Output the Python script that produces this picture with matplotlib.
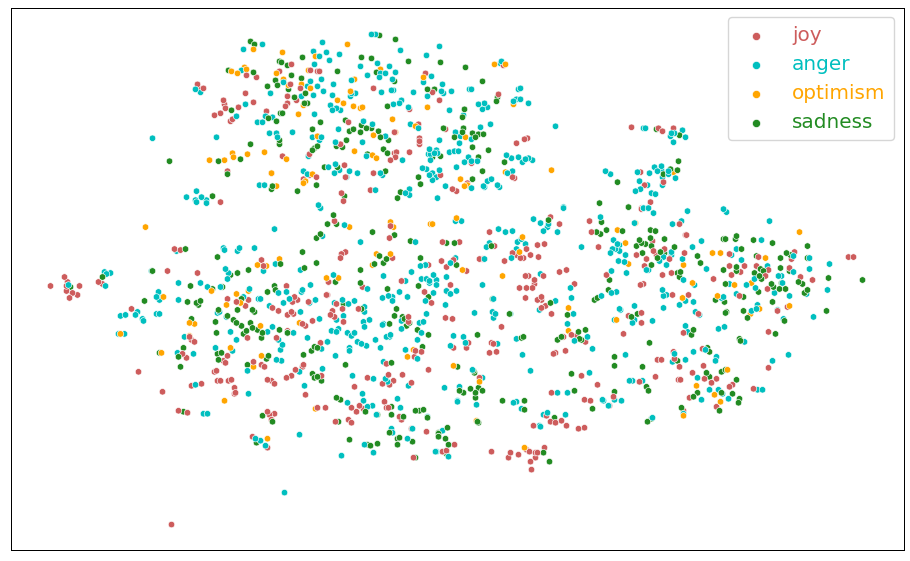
import matplotlib
matplotlib.use("Agg")
import matplotlib.pyplot as plt
import numpy as np

labels = ["joy", "anger", "optimism", "sadness"]
colors = ["indianred", "c", "orange", "forestgreen"]

# t-SNE coordinates
joy = [(198,84),(204,88),(201,89),(224,100),(225,104),(226,108),(239,107),(254,102),(246,93),(221,113),(215,115),(231,121),(233,119),(267,111),(247,75),(257,77),(280,71),(292,64),(311,70),(318,71),(320,71),(291,84),(301,88),(288,96),(288,103),(286,106),(297,100),(374,88),(344,201),(342,193),(349,122),(341,144),(283,156),(310,154),(309,156),(345,165),(374,173),(395,153),(397,152),(391,160),(396,157),(410,152),(420,138),(420,141),(420,144),(395,132),(371,190),(221,202),(317,177),(310,175),(304,179),(228,171),(346,177),(410,109),(419,124),(272,173),
(426,73),(433,92),(440,100),(499,94),(504,65),(446,129),(441,175),(468,183),(453,189),(457,191),(513,177),(515,178),(472,163),(517,143),(525,139),(528,138),(632,127),(659,128),(663,131),(674,128),(641,172),(645,185),(664,182),(651,202),(642,208),
(65,277),(51,286),(68,282),(67,286),(80,286),(67,291),(73,293),(78,295),(70,298),(99,282),(103,284),(175,249),(181,250),(168,271),(198,273),(132,309),(228,299),(237,302),(246,306),(249,300),(262,260),(264,266),(287,286),(295,297),(298,300),(293,302),(273,308),(279,311),(288,315),(292,312),(294,314),(309,302),(328,295),(329,282),(313,321),(306,326),(303,324),(288,331),(248,338),(277,338),(321,343),(192,340),(195,342),(190,337),(183,354),(187,358),(228,356),(224,361),(226,363),(254,362),(262,365),(265,367),(215,372),(217,371),(139,372),(304,365),(303,367),(296,370),(292,376),(287,378),(268,380),(272,381),(275,384),(218,381),(221,381),(229,381),(232,380),(192,386),(202,384),(235,388),(236,393),(322,376),(163,392),(235,394),
(642,209),(680,224),(686,235),(687,235),(653,241),(665,249),(637,255),(654,251),(657,255),(647,259),(670,259),(685,253),(645,266),(663,275),(672,273),(607,275),(714,279),(730,254),(730,266),(745,266),(741,272),(732,275),(769,270),(757,266),(759,257),(766,276),(795,252),(792,259),(790,268),(801,277),(813,280),(768,289),(849,257),(854,257),(689,295),(673,295),(644,284),(641,285),(740,296),(788,307),(778,311),(699,314),(629,316),(642,313),(642,323),(624,334),(684,333),(769,332),(674,352),(675,359),(680,367),(658,360),(662,360),(703,349),(704,366),(769,368),(656,377),(693,373),(717,379),(712,383),(679,380),(681,380),(640,382),(733,385),(730,387),(754,389),(705,379),
(335,221),(391,226),(390,238),(490,232),(560,224),(551,217),(590,221),(592,232),(443,242),(460,242),(495,246),(538,245),(545,244),(527,249),(513,253),(517,255),(521,258),(524,258),(531,255),(539,257),(505,261),(599,247),(346,252),(342,254),(341,258),(393,258),(429,265),(442,261),(447,267),(454,260),(467,271),(480,259),(483,259),(329,282),(363,287),(402,281),(451,285),(425,292),(447,291),(432,303),(327,295),(337,304),(333,311),(331,315),(335,317),(343,309),(344,322),(359,309),(409,317),(409,322),(446,318),(453,319),(502,327),(526,276),(529,276),(544,276),(535,280),(535,284),(527,288),(533,288),(520,288),(526,298),(538,300),(542,297),(542,300),(546,306),(542,308),(552,314),(560,272),(567,270),(575,284),(607,275),(572,335),(577,336),(586,342),(564,337),(566,351),(556,353),(554,354),(494,344),(492,343),(497,352),(490,353),(469,343),(467,348),(454,348),(416,351),(422,352),(415,357),(429,370),(368,378),(355,387),(389,375),(394,381),(383,384),(390,385),(403,375),(412,383),(387,364),(480,378),(582,376),(598,385),(552,393),
(179,411),(188,413),(268,412),(275,414),(270,415),(272,420),(253,437),(268,448),(172,525),(318,408),(326,408),(352,408),(357,412),(360,406),(364,409),(385,402),(387,408),(389,408),(336,422),(349,420),(352,423),(400,417),(402,420),(412,429),(427,432),(414,458),(306,395),
(492,452),(511,453),(509,458),(519,455),(527,450),(530,452),(536,453),(538,453),(536,458),(545,448),(531,462),(532,470),(455,445),(443,452),(447,451),(534,426),(547,416),(551,422),(556,423),(562,421),(567,426),(579,429),(585,428),(585,400),(591,401),(610,406),(614,397),(690,398),(717,407),(684,411)]

anger = [(323,42),(263,44),(244,49),(314,51),(327,52),(320,56),(340,54),(330,60),(315,64),(361,66),(378,63),(368,75),(390,66),(386,73),(381,73),(380,77),(396,72),(393,79),(401,50),(242,70),(196,89),(201,92),(246,104),(237,116),(266,116),(273,117),(263,122),(258,122),(284,82),(308,86),(311,81),(322,79),(334,84),(318,86),(324,91),(314,95),(302,96),(333,95),(271,93),(352,80),(352,93),(356,93),(351,96),(382,92),(392,90),(394,90),(414,92),(402,100),(394,104),(400,103),(409,107),(331,105),(333,110),(337,108),(341,110),(315,114),(364,121),(373,124),(339,129),(411,124),(419,128),(270,133),(277,133),(278,137),(293,132),(313,137),(322,137),(320,140),(336,142),(363,142),(386,136),(367,156),(403,160),(153,138),(217,137),(309,156),(304,171),(308,174),(329,167),(335,173),(336,164),(340,170),(350,171),(358,173),(347,177),(381,173),(383,175),(260,185),(265,185),(376,190),(406,193),(410,189),(410,195),(197,191),(187,197),(196,200),(202,197),(197,202),(207,203),(207,200),(319,205),(321,208),(372,34),(376,34),
(440,46),(427,55),(432,76),(424,82),(443,84),(452,91),(442,91),(444,93),(428,96),(472,89),(470,89),(450,110),(464,115),(479,104),(485,103),(488,107),(483,109),(519,89),(521,88),(514,101),(517,99),(521,99),(529,103),(502,61),(501,63),(491,124),(481,127),(456,132),(461,136),(472,139),(460,143),(440,140),(556,126),(430,149),(437,150),(429,154),(431,154),(435,153),(438,153),(431,160),(450,152),(455,151),(459,151),(469,157),(465,162),(472,161),(478,161),(457,167),(440,170),(423,168),(427,169),(430,175),(433,173),(437,177),(433,180),(507,155),(512,158),(519,157),(529,158),(533,160),(523,162),(526,159),(508,173),(513,171),(488,181),(492,179),(484,186),(485,187),(498,185),(500,187),(446,186),(472,188),(438,198),(564,208),(606,171),(611,174),(638,172),(644,128),(646,128),(683,130),(686,137),(674,142),(671,136),(672,133),(675,133),(655,167),(662,166),(658,171),(662,170),(669,171),(669,174),(663,177),(676,178),(650,173),(640,181),(648,185),(641,189),(636,191),(663,185),(652,193),(656,194),(648,208),(644,208),
(69,285),(105,272),(107,274),(111,273),(106,286),(177,251),(152,271),(179,283),(201,283),(208,287),(221,287),(159,292),(157,297),(162,297),(160,300),(179,300),(226,269),(229,273),(228,279),(224,248),(225,250),(238,251),(240,248),(255,248),(275,229),(276,264),(264,271),(301,270),(321,208),(323,236),(250,289),(244,297),(259,299),(261,299),(287,292),(279,293),(284,303),(290,299),(302,292),(303,290),(311,285),(316,300),(310,303),(270,306),(301,312),(320,319),(121,316),(126,315),(136,315),(138,312),(157,314),(160,314),(143,319),(144,321),(119,334),(125,334),(218,313),(220,312),(227,317),(231,332),(237,340),(268,332),(273,327),(294,333),(288,333),(308,338),(279,340),(328,342),(322,349),(283,345),(281,350),(216,348),(233,351),(185,337),(178,353),(194,354),(277,360),(282,361),(323,369),(300,372),(248,371),(196,385),(305,386),(249,394),
(654,213),(649,208),(644,208),(688,211),(724,209),(727,212),(635,223),(673,224),(682,221),(770,221),(614,240),(618,244),(620,245),(613,249),(616,249),(620,251),(611,253),(626,255),(619,261),(625,262),(612,271),(627,273),(647,270),(649,270),(660,261),(667,265),(672,252),(672,255),(664,257),(683,259),(693,247),(702,241),(707,269),(762,240),(737,249),(732,255),(742,260),(768,266),(794,256),(810,258),(830,264),(810,269),(794,272),(779,276),(782,276),(755,279),(684,280),(695,285),(663,290),(667,295),(664,296),(617,292),(612,293),(747,285),(730,284),(756,288),(783,283),(775,293),(737,294),(722,298),(724,297),(686,301),(694,302),(680,305),(790,296),(828,290),(807,294),(635,306),(664,308),(620,309),(621,310),(758,305),(752,311),(757,309),(778,310),(784,319),(814,317),(696,312),(700,315),(635,320),(633,323),(615,320),(653,321),(686,326),(688,332),(719,329),(725,327),(745,342),(789,355),(626,355),(773,361),(694,352),(706,350),(675,354),(686,360),(673,362),(717,357),(716,361),(698,378),(633,381),(630,381),(643,381),(758,390),(763,390),(710,390),(719,390),(723,394),
(345,225),(564,207),(534,219),(541,223),(549,224),(548,227),(544,231),(558,232),(601,217),(499,229),(506,232),(513,231),(456,221),(462,221),(361,242),(416,242),(490,243),(487,247),(518,242),(522,239),(526,244),(517,249),(512,258),(582,247),(485,259),(451,263),(456,258),(426,265),(421,266),(412,272),(447,277),(541,274),(434,275),(437,280),(437,285),(422,279),(427,279),(430,281),(430,283),(483,285),(384,276),(334,275),(368,289),(406,281),(400,292),(408,297),(383,298),(389,296),(393,297),(393,301),(426,301),(434,293),(447,291),(451,294),(457,291),(446,305),(355,301),(343,300),(335,303),(349,304),(365,307),(365,312),(344,316),(337,320),(427,314),(475,313),(493,312),(496,314),(494,318),(494,299),(511,314),(556,301),(540,310),(571,288),(572,298),(602,296),(574,314),(568,324),(364,322),(370,320),(365,327),(383,325),(384,324),(402,321),(402,329),(420,323),(424,322),(332,331),(337,332),(339,329),(348,333),(352,336),(355,333),(358,342),(362,344),(367,346),(376,340),(381,348),(387,337),(390,337),(391,335),(422,333),(418,340),(454,336),(464,337),(466,343),(451,346),(406,350),(418,359),(498,344),(517,339),(575,341),(588,337),(593,349),(523,355),(328,342),(350,348),(350,351),(336,356),(353,376),(374,379),(384,362),(386,379),(388,382),(409,386),(483,378),(473,370),(531,371),(590,373),(445,388),(460,387),(363,394),(558,393),(568,393),
(204,414),(208,414),(256,439),(261,441),(266,446),(300,435),(285,493),(348,403),(364,401),(373,406),(368,407),(401,408),(398,399),(377,415),(428,417),(392,429),(393,433),(408,439),(365,445),(374,453),(342,456),(413,429),(437,452),
(443,431),(436,452),(449,457),(458,401),(458,402),(477,405),(514,403),(517,402),(522,409),(544,415),(548,413),(566,415),(540,426),(541,427),(603,400),(604,401),(622,401),(615,400),(609,406),(653,418),(702,400),(729,399),(684,414)]

optimism = [(254,49),(283,52),(348,44),(316,56),(245,67),(247,69),(232,71),(238,73),(277,73),(284,79),(302,84),(289,85),(311,88),(309,70),(381,69),(355,79),(351,91),(338,100),(344,103),(354,106),(361,108),(363,107),(304,105),(299,114),(393,119),(416,126),(396,132),(318,136),(374,135),(280,143),(355,151),(373,155),(377,158),(265,152),(248,154),(233,153),(234,157),(225,160),(210,160),(287,159),(272,173),(313,174),(306,181),(304,183),(277,186),
(424,77),(428,107),(466,137),(495,64),(506,64),(514,104),(461,179),(465,186),(468,185),(506,172),(552,170),(674,172),
(146,227),(280,259),(258,265),(267,266),(327,278),(212,291),(164,297),(237,294),(249,291),(227,305),(241,303),(261,326),(190,323),(195,324),(300,323),(190,336),(121,334),(162,353),(231,348),(262,356),(254,367),
(618,230),(636,223),(626,243),(629,264),(684,265),(713,253),(721,253),(766,258),(735,285),(752,283),(693,283),(683,298),(800,232),(718,296),(751,314),(760,309),(790,306),(617,320),(728,370),(706,378),(697,386),(715,395),
(350,227),(431,224),(433,224),(457,218),(391,222),(394,227),(377,254),(391,254),(373,265),(463,270),(503,276),(523,237),(520,252),(339,278),(569,308),(569,331),(414,350),(408,357),(454,366),(480,382),
(225,401),(268,439),(316,409),(477,421),(525,448),(684,416),(721,402)]

sadness = [(251,41),(255,44),(280,61),(282,62),(288,65),(229,70),(254,72),(292,75),(302,78),(276,80),(268,86),(278,85),(289,89),(306,93),(295,97),(305,103),(308,103),(232,110),(281,113),(283,113),(269,118),(277,121),(321,122),(251,144),(280,140),(280,144),(313,129),(318,146),(315,148),(313,150),(170,161),(219,161),(241,159),(228,174),(273,186),(272,189),(317,185),(298,191),(213,196),(303,57),(362,57),(372,58),(338,71),(409,61),(396,39),(380,35),(377,72),(395,81),(388,106),(346,120),(362,125),(367,128),(372,128),(354,129),(350,131),(361,132),(379,131),(381,137),(389,140),(347,140),(337,146),(343,147),(384,149),(388,153),(368,154),(325,167),(338,167),(386,171),(419,177),(401,192),(398,198),(345,196),
(441,62),(466,67),(483,81),(428,89),(435,89),(465,109),(463,117),(497,101),(498,97),(444,128),(464,128),(463,132),(473,133),(455,137),(476,137),(479,134),(484,134),(473,147),(489,150),(441,156),(433,157),(479,157),(505,162),(483,171),(473,179),(421,184),(657,129),(680,135),(679,161),(678,170),(671,169),(664,174),(618,182),(600,203),(629,207),
(71,287),(103,277),(186,249),(153,271),(145,301),(218,257),(249,270),(238,273),(231,275),(281,264),(303,252),(305,268),(317,263),(321,234),(317,238),(328,224),(191,286),(223,287),(213,289),(188,302),(197,303),(199,305),(201,301),(238,310),(253,310),(255,312),(268,292),(275,286),(276,290),(242,299),(219,310),(228,316),(234,320),(237,323),(242,326),(251,323),(247,331),(244,334),(253,328),(258,330),(263,333),(262,338),(216,322),(217,333),(192,319),(280,330),(288,333),(184,348),(179,357),(160,353),(181,367),(218,354),(222,353),(219,360),(248,365),(269,356),(267,359),(304,355),(312,351),(315,347),(318,348),(313,374),(315,378),(318,377),(322,381),
(334,215),(337,224),(373,232),(395,235),(411,241),(447,243),(455,243),(492,246),(549,220),(602,222),(597,232),(601,234),(607,230),(380,256),(387,259),(384,263),(375,264),(421,258),(457,265),(361,270),(336,282),(361,283),(419,286),(388,289),(429,297),(344,304),(362,309),(397,309),(395,316),(403,317),(405,319),(410,323),(407,326),(390,324),(418,330),(429,335),(478,335),(493,299),(510,314),(551,303),(568,315),(598,298),(595,300),(609,290),(610,280),(586,330),(579,332),(558,340),(562,337),(580,339),(582,340),(524,337),(522,338),(423,347),(392,363),(346,365),(458,367),(475,373),(474,371),(572,374),(479,388),(483,391),(460,391),(464,393),(471,389),(476,393),(575,391),
(629,207),(623,231),(651,230),(656,231),(640,240),(651,238),(665,239),(642,243),(646,244),(637,246),(652,246),(675,247),(643,253),(661,252),(665,253),(658,258),(652,265),(698,256),(701,263),(678,273),(681,272),(680,277),(724,239),(726,239),(736,239),(737,236),(754,240),(773,243),(808,246),(742,249),(724,270),(737,267),(737,271),(781,258),(787,253),(791,255),(808,258),(757,256),(781,268),(761,269),(764,271),(755,273),(760,276),(762,279),(790,271),(799,282),(803,284),(829,278),(863,280),(726,284),(772,284),(774,287),(780,289),(786,289),(782,283),(759,292),(744,297),(716,300),(725,302),(773,302),(808,290),(805,293),(727,312),(726,313),(744,311),(748,318),(827,311),(785,321),(776,334),(638,314),(632,317),(694,330),(692,335),(740,339),(741,341),(650,343),(708,348),(710,352),(615,357),(615,366),(643,367),(678,361),(707,373),(710,377),(722,372),(726,370),(737,380),(647,387),(649,391),(615,392),(698,393),(722,393),(733,394),
(184,412),(263,416),(273,422),(257,443),(337,398),(341,400),(366,412),(378,415),(392,407),(392,415),(404,417),(416,411),(420,411),(424,410),(428,418),(339,422),(390,433),(398,439),(400,438),(350,440),(368,445),(371,446),(378,444),(398,445),(413,442),(416,458),(439,433),(439,437),
(448,428),(439,434),(439,437),(446,439),(449,445),(447,454),(479,423),(478,422),(525,401),(525,410),(503,401),(555,418),(593,409),(544,453),(550,462),(682,408),(652,419),(648,422),(720,411),(694,397),(739,403),(740,399),(476,398)]

series = [joy, anger, optimism, sadness]

fig = plt.figure(figsize=(9.1, 5.61), dpi=100)
ax = fig.add_axes([11/910, 1 - 550/561, 893/910, 542/561])

# classes are mixed in draw order, no class sits on top of the others
xy = np.vstack([np.array(s) for s in series])
c = np.concatenate([[col] * len(s) for s, col in zip(series, colors)])
order = np.argsort((xy[:, 0] * 7 + xy[:, 1] * 13) % 11, kind="stable")
ax.scatter(xy[order, 0], xy[order, 1], s=22, c=c[order], edgecolors="white", linewidths=0.45)

for label, color in zip(labels, colors):
    ax.scatter([], [], s=22, color=color, edgecolors="white", linewidths=0.45, label=label)

ax.set_xlim(11.5, 904.5)
ax.set_ylim(550.5, 7.5)
ax.set_xticks([])
ax.set_yticks([])
for spine in ax.spines.values():
    spine.set_linewidth(0.72)

leg = ax.legend(loc="upper right", fontsize=14.4, labelspacing=0.5, borderpad=0.42,
                handletextpad=0.8, handlelength=2.0, markerscale=1.25,
                bbox_to_anchor=(0.9887, 0.9825), borderaxespad=0)
for text, color in zip(leg.get_texts(), colors):
    text.set_color(color)

fig.savefig("out.png", dpi=100)
